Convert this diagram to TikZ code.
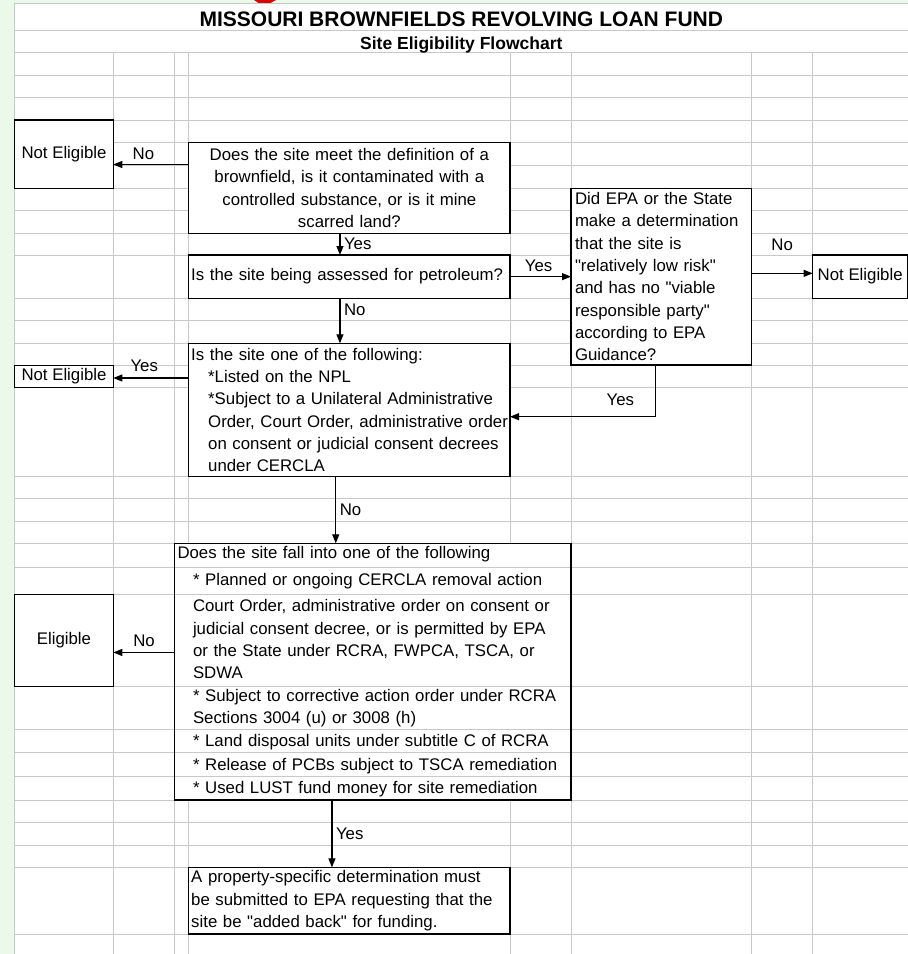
\documentclass[tikz,border=0pt]{standalone}
\usepackage{fontspec}
\newfontfamily\sheetfont{Liberation Sans}
\usepackage{tikz}
\usetikzlibrary{calc,arrows.meta}
\definecolor{sheetgreen}{RGB}{234,249,234}
\definecolor{gridgray}{RGB}{200,200,200}
\newcommand\flowtext{\sheetfont\fontsize{16.8}{22.3}\selectfont}

\begin{document}
\begin{tikzpicture}[x=1pt,y=-1pt,
    gridline/.style={gridgray,line width=1pt},
    box/.style={draw,fill=white,line width=1.1pt,font=\flowtext,anchor=north west,inner sep=0pt,inner xsep=2.5pt,outer sep=0pt},
    flow/.style={line width=1.1pt,-{Triangle[length=9pt,width=7pt]}},
    lbl/.style={font=\flowtext,inner sep=0pt}]
  \useasboundingbox (0,0) rectangle (908,954);
  \fill[white] (0,0) rectangle (908,954);
  \fill[sheetgreen] (0,0) rectangle (14.7,954);
  \fill[sheetgreen] (0,0) rectangle (908,3.3);
  \fill[red!85!black] (254,0) -- (276,0) -- (270,3.3) -- (259,3.3) -- cycle;
  \foreach \y in {3.3,30.7,52.7,75.3,97.7,120,142.7,165,188.3,210.7,233.3,255,298.3,320.7,343.3,365.3,387.7,476.7,498.7,521,543.3,567,594.3,686,729.3,752.5,776,800,822.3,845,867.3,934}
    \draw[gridline] (14.7,\y) -- (908,\y);
  \foreach \x in {113.3,174.7,188.7,510,571,751.7,812.7}
    \draw[gridline] (\x,52.7) -- (\x,954);
  \draw[gridline] (14.7,3.3) -- (14.7,954);

  \node[font={\sheetfont\bfseries\fontsize{21}{25}\selectfont},anchor=base] (title) at (461.3,26) {MISSOURI BROWNFIELDS REVOLVING LOAN FUND};
  \node[font={\sheetfont\bfseries\fontsize{17.5}{21}\selectfont},anchor=base] (subtitle) at (461.3,49.3) {Site Eligibility Flowchart};

  \node[box,align=center,minimum width=98.6pt,minimum height=68.3pt] (ne1) at (14.7,120) {Not Eligible};
  \node[box,align=center,text width=316.3pt,minimum width=321.3pt,minimum height=90.6pt] (q1) at (188.7,142.7)
    {Does the site meet the definition of a\\brownfield, is it contaminated with a\\controlled substance, or is it mine\\scarred land?};
  \node[box,align=left,text width=316.3pt,minimum width=321.3pt,minimum height=43.3pt] (q2) at (188.7,255)
    {Is the site being assessed for petroleum?};
  \node[box,align=left,inner xsep=4pt,text width=172.7pt,minimum width=180.7pt,minimum height=176.7pt] (epa) at (571,188.3)
    {Did EPA or the State\\make a determination\\that the site is\\\textquotedbl relatively low risk\textquotedbl\\and has no \textquotedbl viable\\responsible party\textquotedbl\\according to EPA\\Guidance?};
  \node[box,align=center,minimum width=95pt,minimum height=43.3pt] (ne2) at (812.7,255) {Not Eligible};
  \node[box,align=left,text width=316.3pt,minimum width=321.3pt,minimum height=133.4pt] (q3) at (188.7,343.3)
    {Is the site one of the following:\\
     \hspace*{17pt}*Listed on the NPL\\
     \hspace*{17pt}*Subject to a Unilateral Administrative\\
     \hspace*{17pt}\mbox{Order, Court Order, administrative order}\\
     \hspace*{17pt}on consent or judicial consent decrees\\
     \hspace*{17pt}under CERCLA};
  \node[box,align=center,minimum width=98.6pt,minimum height=22.4pt] (ne3) at (14.7,365.3) {Not Eligible};

  \fill[white] (174.7,543.3) rectangle (571,800);
  \foreach \y in {567,594.3,686,729.3,752.5,776}
    \draw[gridline] (174.7,\y) -- (571,\y);
  \node[box,fill=none,align=left,inner xsep=2.8pt,text width=390.7pt,minimum width=396.3pt,minimum height=256.7pt] (q4) at (174.7,543.3)
    {Does the site fall into one of the following\\[5pt]
     \hspace*{15.5pt}* Planned or ongoing CERCLA removal action\\[4pt]
     \hspace*{15.5pt}Court Order, administrative order on consent or\\
     \hspace*{15.5pt}judicial consent decree, or is permitted by EPA\\
     \hspace*{15.5pt}or the State under RCRA, FWPCA, TSCA, or\\
     \hspace*{15.5pt}SDWA\\[0.6pt]
     \hspace*{15.5pt}* Subject to corrective action order under RCRA\\
     \hspace*{15.5pt}Sections 3004 (u) or 3008 (h)\\
     \hspace*{15.5pt}* Land disposal units under subtitle C of RCRA\\[2pt]
     \hspace*{15.5pt}* Release of PCBs subject to TSCA remediation\\[1pt]
     \hspace*{15.5pt}* Used LUST fund money for site remediation};
  \node[box,align=center,minimum width=98.6pt,minimum height=92.4pt] (elig) at (14.7,594.3) {Eligible};
  \node[box,align=left,text width=316.3pt,minimum width=321.3pt,minimum height=66.7pt] (fin) at (188.7,867.3)
    {A property-specific determination must\\be submitted to EPA requesting that the\\site be \textquotedbl added back\textquotedbl\ for funding.};

  \draw[flow] ([yshift=23.5pt]q1.west) coordinate (a1) -- (a1 -| ne1.east) node[lbl,pos=.6,yshift=10.3pt] (l1) {No};
  \draw[flow] ([xshift=-9.4pt]q1.south) coordinate (a2) -- (a2 |- q2.north) node[lbl,midway,right=3.5pt] (l2) {Yes};
  \draw[flow] (q2.east) -- (q2.east -| epa.west) node[lbl,pos=.47,yshift=10.5pt] (l3) {Yes};
  \draw[flow] ([yshift=3.3pt]epa.east) coordinate (a4) -- (a4 -| ne2.west) node[lbl,midway,yshift=28.3pt] (l4) {No};
  \draw[flow] ([xshift=-9.4pt]q2.south) coordinate (a5) -- (a5 |- q3.north) node[lbl,pos=.26,right=3.5pt] (l5) {No};
  \draw[flow] ([xshift=-6.2pt]epa.south) coordinate (a6) |- ([yshift=-6.7pt]q3.east) node[lbl,pos=.62,yshift=17.4pt] (l6) {Yes};
  \draw[flow] ([yshift=32pt]q3.west) coordinate (a7) -- (a7 -| ne3.east) node[lbl,pos=.59,yshift=12.7pt] (l7) {Yes};
  \draw[flow] ([xshift=-13.6pt]q3.south) coordinate (a8) -- (a8 |- q4.north) node[lbl,midway,right=3.5pt] (l8) {No};
  \draw[flow] ([yshift=19.2pt]q4.west) coordinate (a9) -- (a9 -| elig.east) node[lbl,midway,yshift=11.5pt] (l9) {No};
  \draw[flow] ([xshift=-40.9pt]q4.south) coordinate (a10) -- (a10 |- fin.north) node[lbl,midway,right=3.5pt] (l10) {Yes};
\end{tikzpicture}
\end{document}
